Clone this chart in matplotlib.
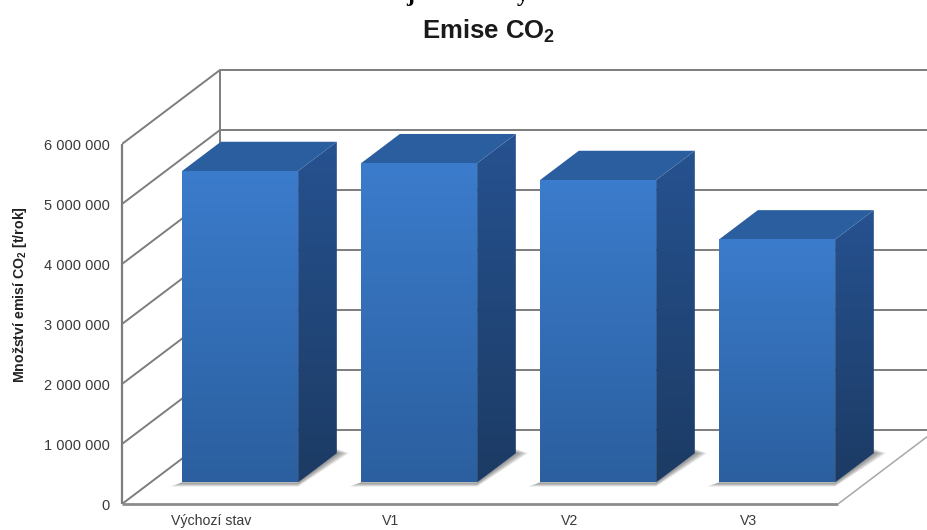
import numpy as np
import matplotlib
matplotlib.use("Agg")
import matplotlib.pyplot as plt
from matplotlib.patches import Polygon
from matplotlib.colors import LinearSegmentedColormap

categories = ["Výchozí stav", "V1", "V2", "V3"]
emissions = [5190000, 5320000, 5040000, 4050000]
y_ticks = [0, 1000000, 2000000, 3000000, 4000000, 5000000, 6000000]
y_tick_labels = ["0", "1 000 000", "2 000 000", "3 000 000", "4 000 000", "5 000 000", "6 000 000"]
title_text = r"Emise CO$_\mathbf{2}$"
ylabel_text = r"Množství emisí CO$_\mathbf{2}$ [t/rok]"

plt.rcParams["font.family"] = ["Liberation Sans", "DejaVu Sans"]
plt.rcParams["mathtext.fontset"] = "custom"
plt.rcParams["mathtext.rm"] = "Liberation Sans"
plt.rcParams["mathtext.bf"] = "Liberation Sans:bold"

W, H = 927, 530
fig = plt.figure(figsize=(W / 100, H / 100), dpi=100, facecolor="white")
L, R, T, B = 122, 838, 144, 504
PX = (R - L) / 4          # px per category
PY = (B - T) / 6000000    # px per value unit
XLIM = (-0.5, -0.5 + (W - L) / PX)
YLIM = (0, B / PY)
# axes run to the figure's top and right so the 3D depth stays inside them
ax = fig.add_axes([L / W, 1 - B / H, (W - L) / W, B / H])
for s in ax.spines.values():
    s.set_visible(False)
ax.patch.set_visible(False)

DX = 98 / PX              # full depth shift, categories
DY = 74 / PY              # full depth shift, value units


def proj(x, y, d):
    return (x + d * DX, y + d * DY)


LINE = "#7d7d7d"
kw = dict(solid_capstyle="butt")
for v in y_ticks:
    p0, p1, p2 = proj(-0.5, v, 0), proj(-0.5, v, 1), proj(3.5, v, 1)
    ax.plot([p0[0], p1[0], p2[0]], [p0[1], p1[1], p2[1]], color=LINE, lw=1.4, zorder=1, **kw)
ax.plot([-0.5, -0.5], [0, 6000000], color=LINE, lw=1.6, zorder=1, clip_on=False, **kw)
a, b = proj(-0.5, 0, 1), proj(-0.5, 6000000, 1)
ax.plot([a[0], b[0]], [a[1], b[1]], color=LINE, lw=1.4, zorder=1, **kw)
ax.plot([-0.5, 3.5], [0, 0], color="#8c8c8c", lw=2.0, zorder=1, clip_on=False, **kw)
a, b = proj(3.5, 0, 0), proj(3.5, 0, 1)
ax.plot([a[0], b[0]], [a[1], b[1]], color="#a8a8a8", lw=1.1, zorder=1, **kw)

cm_front = LinearSegmentedColormap.from_list("f", ["#2b5f9f", "#3b7ccc"])
cm_side = LinearSegmentedColormap.from_list("s", ["#1c3b64", "#265290"])
grad = np.linspace(1, 0, 256).reshape(-1, 1)

HALF = 58 / PX
D0, D1 = 0.292, 0.292 + 0.395

for i, val in enumerate(emissions):
    fl = proj(i - HALF, 0, D0)
    fr = proj(i + HALF, 0, D0)
    bl = proj(i - HALF, 0, D1)
    br = proj(i + HALF, 0, D1)
    tfl = proj(i - HALF, val, D0)
    tfr = proj(i + HALF, val, D0)
    tbl = proj(i - HALF, val, D1)
    tbr = proj(i + HALF, val, D1)
    # soft floor shadow: below-left of the front, and right of the side face
    for k in range(1, 7):
        e = k * 2.0 / PX
        ey = k * 0.7 / PY
        ax.add_patch(Polygon([(fl[0] - e, fl[1] - ey), (fr[0], fr[1] - ey),
                              (br[0] + e, br[1]), (br[0], br[1] + ey), (fr[0], fr[1]), (fl[0], fl[1])],
                             closed=True, fc="#333333", ec="none", alpha=0.11, zorder=2))
    # front face
    clip = Polygon([fl, fr, tfr, tfl], closed=True, transform=ax.transData, fc="none", ec="none")
    ax.add_patch(clip)
    im = ax.imshow(grad, extent=[fl[0], fr[0], fl[1], tfl[1]], cmap=cm_front, vmin=0, vmax=1,
                   aspect="auto", zorder=4, interpolation="bilinear")
    im.set_clip_path(clip)
    # side face
    clip = Polygon([fr, br, tbr, tfr], closed=True, transform=ax.transData, fc="none", ec="none")
    ax.add_patch(clip)
    im = ax.imshow(grad, extent=[fr[0], br[0], fr[1], tbr[1]], cmap=cm_side, vmin=0, vmax=1,
                   aspect="auto", zorder=3, interpolation="bilinear")
    im.set_clip_path(clip)
    # top face
    ax.add_patch(Polygon([tfl, tfr, tbr, tbl], closed=True, fc="#2b5e9e", ec="none", zorder=3))

ax.set_xlim(*XLIM)
ax.set_ylim(*YLIM)
ax.set_xticks(range(len(categories)))
ax.set_xticklabels(categories, fontsize=10.2, color="#3a3a3a")
ax.set_yticks(y_ticks)
ax.set_yticklabels(y_tick_labels, fontsize=10.5, color="#3a3a3a")
ax.tick_params(axis="x", length=0, pad=7)
ax.tick_params(axis="y", length=0, pad=9)

fig.text(489 / W, 1 - 31 / H, title_text, ha="center", va="center", fontsize=18.5,
         fontweight="bold", color="#1a1a1a")
fig.text(20 / W, 1 - 295 / H, ylabel_text, ha="center", va="center", rotation=90,
         fontsize=10.2, fontweight="bold", color="#222222")
# descenders of a heading cropped off at the top edge of the picture
for px, ch in [(410, "j"), (523, "y")]:
    fig.text(px / W, 1 - 0.5 / H, ch, ha="center", va="baseline", fontsize=17,
             fontweight="bold", family="Liberation Serif", color="black")

fig.savefig("out.png", dpi=100, facecolor="white")
